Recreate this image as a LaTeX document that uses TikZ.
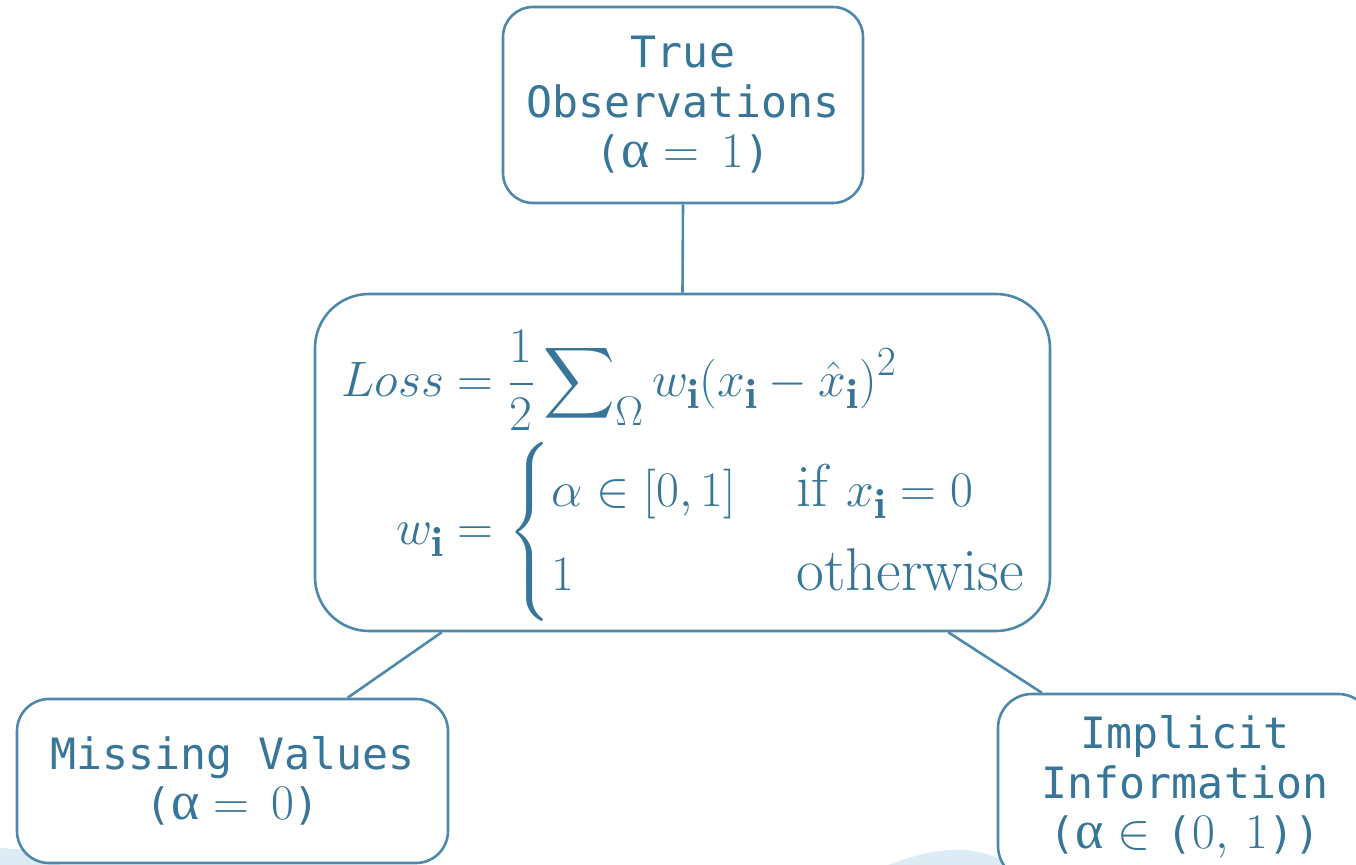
\documentclass[tikz,border=0pt]{standalone}
\usepackage{amsmath}
\usepackage{fontspec}
\newfontfamily\monof{DejaVu Sans Mono}
\newfontfamily\grk{Liberation Serif}
\usetikzlibrary{calc}
\definecolor{boxline}{RGB}{78,137,172}
\definecolor{textc}{RGB}{55,118,152}
\definecolor{swoosh}{RGB}{221,236,244}
\newcommand{\mth}[1]{{\fontsize{26}{25}\selectfont$#1$}}
\newcommand{\alf}{{\grk\fontsize{27}{25}\selectfont α}}
\begin{document}
\begin{tikzpicture}[x=0.5pt,y=-0.5pt,
  box/.style={draw=boxline, line width=1.3pt, fill=white, text=textc,
    inner sep=0pt, align=center, rounded corners=15pt,
    font=\monof\fontsize{21.6}{25}\selectfont},
  link/.style={draw=boxline, line width=1.3pt}]
\useasboundingbox (0,0) rectangle (1356,865);
\clip (0,0) rectangle (1356,865);
\fill[swoosh] (0,848) .. controls (20,849) and (40,851) .. (60,853) -- (60,865) -- (0,865) -- cycle;
\fill[swoosh] (888,865) .. controls (912,856) and (940,848) .. (965,850) .. controls (985,852) and (1000,858) .. (1012,865) -- cycle;

\node[box, minimum width=180pt, minimum height=98pt] (top) at (683,105)
  {True\\Observations\\(\alf\mth{\mkern5mu=\mkern3mu1})};
\node[box, minimum width=367.5pt, minimum height=168.5pt, rounded corners=27pt] (mid) at (682.5,462.5) {};
\node[text=textc, inner sep=0pt, font=\normalfont\fontsize{30.2}{35}\selectfont] (midtxt) at (684,476)
  {$\begin{aligned}
   Loss &= \frac{1}{2}\sum\nolimits_{\Omega} w_{\mathbf{i}}(x_{\mathbf{i}}-\hat{x}_{\mathbf{i}})^2\\[2pt]
   w_{\mathbf{i}} &= \begin{cases}\alpha\in[0,1] & \text{if } x_{\mathbf{i}}=0\\ 1 & \text{otherwise}\end{cases}
  \end{aligned}$};
\node[box, minimum width=215.5pt, minimum height=82pt, rounded corners=16pt] (left) at (232.5,781)
  {Missing Values\\(\alf\mth{\mkern5mu=\mkern3mu0})};
\node[box, minimum width=187pt, minimum height=93pt, rounded corners=17pt] (right) at (1185,787)
  {Implicit\\Information\\(\alf\mth{\mkern5mu\in\mkern3mu}\,(\mth{0,\,1}))};

\draw[link] (top.south) -- (mid.north);
\draw[link] ($(mid.south west)+(128,0)$) -- ($(left.north west)+(332,0)$);
\draw[link] ($(mid.south east)+(-103,0)$) -- ($(right.north west)+(45,0)$);
\end{tikzpicture}
\end{document}
